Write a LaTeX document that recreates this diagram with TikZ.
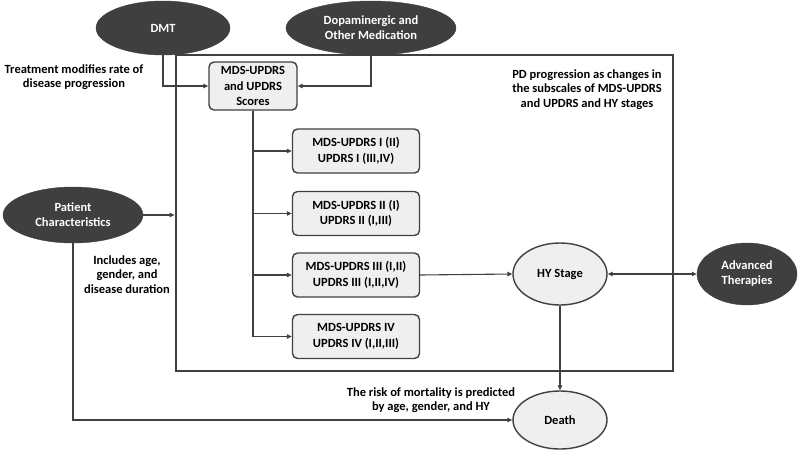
\documentclass[tikz,border=0pt]{standalone}
\usepackage{fontspec}
\setmainfont{Carlito}
\usetikzlibrary{shapes.geometric,arrows.meta}
\definecolor{darkfill}{HTML}{3F3F3F}
\definecolor{lightfill}{HTML}{EFEFEF}
\definecolor{linecol}{HTML}{404040}
\tikzset{
  darkell/.style={ellipse, fill=darkfill, draw=darkfill, text=white, font=\fontsize{12.5}{15}\selectfont\bfseries, align=center, inner sep=0pt},
  lightell/.style={ellipse, fill=lightfill, draw=linecol, line width=1.4pt, font=\fontsize{12.5}{15}\selectfont\bfseries, align=center, inner sep=0pt},
  box/.style={rectangle, rounded corners=5pt, fill=lightfill, draw=linecol, line width=1.4pt, font=\fontsize{12.5}{15.5}\selectfont\bfseries, align=center, inner sep=0pt, minimum width=127pt, minimum height=44pt},
  lbl/.style={font=\fontsize{12.5}{14.5}\selectfont\bfseries, align=center, inner sep=0pt},
  conn/.style={draw=linecol, line width=1.1pt, -{Triangle[length=5pt,width=4.5pt]}},
}
\begin{document}
\begin{tikzpicture}[x=1pt,y=-1pt]
\useasboundingbox (0,0) rectangle (800,455);
\node[draw=linecol, line width=2.8pt, minimum width=497pt, minimum height=316pt, inner sep=0pt] (frame) at (424.5,213) {};
\node[darkell, minimum width=134pt, minimum height=54pt] (dmt) at (163,28) {DMT};
\node[darkell, minimum width=170pt, minimum height=54pt] (dop) at (371,28) {Dopaminergic and\\Other Medication};
\node[darkell, minimum width=140pt, minimum height=56pt] (pat) at (73,215) {Patient\\Characteristics};
\node[darkell, minimum width=100pt, minimum height=62pt] (adv) at (747,274) {Advanced\\Therapies};
\node[lightell, minimum width=94pt, minimum height=62pt] (hy) at (560,274) {HY Stage};
\node[lightell, minimum width=94pt, minimum height=58pt] (death) at (560,420) {Death};
\node[box, minimum width=88pt, minimum height=48pt] (scores) at (253,86) {MDS-UPDRS\\and UPDRS\\Scores};
\node[box] (b1) at (356,151) {MDS-UPDRS I (II)\\UPDRS I (III,IV)};
\node[box] (b2) at (356,213.5) {MDS-UPDRS II (I)\\UPDRS II (I,III)};
\node[box] (b3) at (356,275) {MDS-UPDRS III (I,II)\\UPDRS III (I,II,IV)};
\node[box] (b4) at (356,336.5) {MDS-UPDRS IV\\UPDRS IV (I,II,III)};
\node[lbl] (ttreat) at (74,77) {Treatment modifies rate of\\disease progression};
\node[lbl] (tinc) at (127,274.5) {Includes age,\\gender, and\\disease duration};
\node[lbl] (tpd) at (587,89.5) {PD progression as changes in\\the subscales of MDS-UPDRS\\and UPDRS and HY stages};
\node[lbl] (trisk) at (431,400) {The risk of mortality is predicted\\by age, gender, and HY};
\draw[conn] (dmt.south) |- (scores.west);
\draw[conn] (dop.south) |- (scores.east);
\draw[conn] (scores.south) |- (b1.west);
\draw[conn] (scores.south) |- (b2.west);
\draw[conn] (scores.south) |- (b3.west);
\draw[conn] (scores.south) |- (b4.west);
\draw[conn] (pat.east) -- (pat.east -| frame.west);
\draw[conn] (pat.south) |- (death.west);
\draw[conn] (b3.east) -- (hy.west);
\draw[conn, {Triangle[length=5pt,width=4.5pt]}-{Triangle[length=5pt,width=4.5pt]}] (hy.east) -- (adv.west);
\draw[conn] (hy.south) -- (death.north);
\end{tikzpicture}
\end{document}
